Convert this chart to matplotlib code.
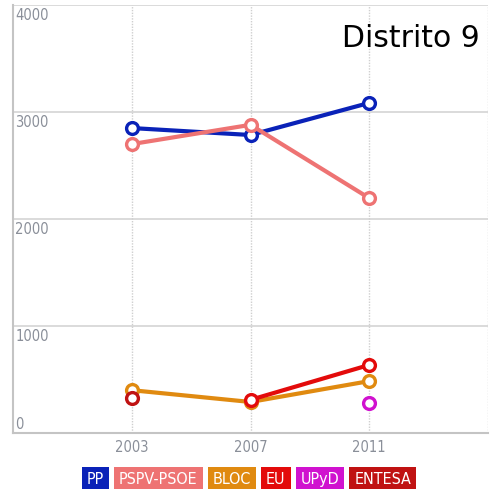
"""Distrito 9: votes per party in the 2003, 2007 and 2011 elections."""
import numpy as np
import matplotlib
matplotlib.use("Agg")
import matplotlib.pyplot as plt
from matplotlib.patches import Rectangle

years = [2003, 2007, 2011]
parties = ["PP", "PSPV-PSOE", "BLOC", "EU", "UPyD", "ENTESA"]
pp = [2850, 2785, 3085]
psoe = [2700, 2880, 2195]
bloc = [400, 290, 485]
eu = [np.nan, 310, 636]
upyd = [np.nan, np.nan, 283]
entesa = [330, np.nan, np.nan]
series = [pp, psoe, bloc, eu, upyd, entesa]
colors = ["#0a22b8", "#ee7373", "#e08a10", "#e30b0b", "#d012cf", "#c01212"]
y_ticks = [0, 1000, 2000, 3000, 4000]
title = "Distrito 9"

NARROW = dict(family="DejaVu Sans", stretch="condensed")

fig = plt.figure(figsize=(5, 5), dpi=100)
ax = fig.add_axes([0.026, 0.134, 0.95, 0.856])
ax.set_xlim(1999, 2015)
ax.set_ylim(0, 4000)

for y in y_ticks:
    ax.axhline(y, color="#d8d8d8", lw=1.3, zorder=0)
    if y == 0:
        off, va = (1.5, 1), "bottom"
    else:
        off, va = (1.5, -2.5), "top"
    ax.annotate(str(y), (1999, y), xytext=off, textcoords="offset points",
                ha="left", va=va, color="#8a8f99", fontsize=10.5, **NARROW)
for x in years + [2015]:
    ax.axvline(x, color="#cfcfcf", lw=1, ls=(0, (1, 1)), zorder=0)

for vals, c in zip(series, colors):
    ax.plot(years, vals, color=c, lw=3, marker="o", ms=8.5, mfc="white",
            mec=c, mew=2.4, zorder=3, solid_capstyle="round")

for s in ["top", "right"]:
    ax.spines[s].set_visible(False)
for s in ["left", "bottom"]:
    ax.spines[s].set_color("#c4c4c4")
    ax.spines[s].set_linewidth(1.5)
ax.set_yticks([])
ax.set_xticks(years)
ax.set_xticklabels([str(y) for y in years], color="#8a8f99", fontsize=10.5,
                   **NARROW)
ax.tick_params(axis="x", length=0, pad=5)

ax.text(0.983, 0.955, title, transform=ax.transAxes, ha="right", va="top",
        fontsize=21.5, color="black")

# legend: coloured boxes with white labels, laid out in a centred row
fig.canvas.draw()
r = fig.canvas.get_renderer()
yc = 478
box_h = 22
hpad = 5
gap = 5
texts = []
for name in parties:
    t = fig.text(0, 1 - yc / 500, name, color="white", fontsize=11.5,
                 ha="center", va="center_baseline", zorder=3, **NARROW)
    texts.append(t)
widths = [t.get_window_extent(r).width + 2 * hpad for t in texts]
total = sum(widths) + (len(widths) - 1) * gap
x = 249 - total / 2
for t, w, c in zip(texts, widths, colors):
    fig.patches.append(Rectangle((x / 500, (500 - yc - box_h / 2) / 500),
                                 w / 500, box_h / 500, fc=c, ec="none",
                                 transform=fig.transFigure, zorder=2))
    t.set_x((x + w / 2) / 500)
    x += w + gap

fig.savefig("out.png", dpi=100)
